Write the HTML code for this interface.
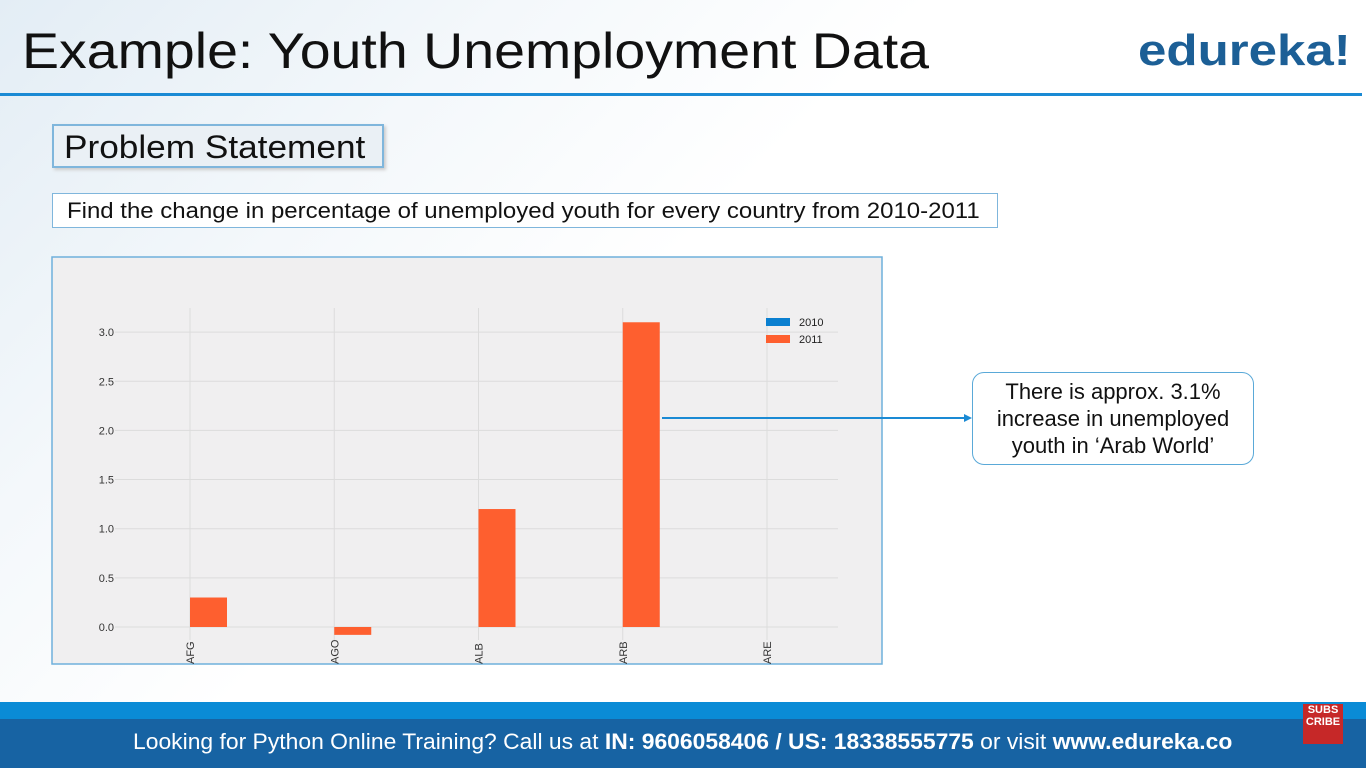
<!DOCTYPE html>
<html><head><meta charset="utf-8"><style>
body{margin:0;width:1366px;height:768px;overflow:hidden;background:#fff;font-family:"Liberation Sans","DejaVu Sans",sans-serif;position:relative}
.abs{position:absolute}
.sx{display:inline-block;transform-origin:left center}
</style></head><body>
<div class="abs" style="left:0;top:0;width:1366px;height:702px;background:linear-gradient(135deg,#e3edf5 0%,#f4f8fb 25%,#ffffff 45%,#ffffff 100%)"></div>
<div class="abs" style="left:22px;top:22px;font-size:50px;color:#111;white-space:nowrap"><span class="sx" style="transform:scaleX(1.11)">Example: Youth Unemployment Data</span></div>
<div class="abs" style="left:1138px;top:26px;font-size:44px;font-weight:bold;color:#1c5f96;white-space:nowrap"><span class="sx" style="transform:scaleX(1.16)">edureka!</span></div>
<div class="abs" style="left:0;top:93px;width:1362px;height:3px;background:#1a8ad4"></div>
<div class="abs" style="left:52px;top:124px;width:332px;height:44px;border:2px solid #7fb6dc;background:#eaf0f5;box-shadow:2px 2px 3px #ccc;font-size:32px;line-height:42px;padding-left:10px;box-sizing:border-box;color:#111;white-space:nowrap"><span class="sx" style="transform:scaleX(1.1)">Problem Statement</span></div>
<div class="abs" style="left:52px;top:193px;width:946px;height:35px;border:1.5px solid #7fb6dc;background:#fff;font-size:22px;line-height:33px;padding-left:14px;box-sizing:border-box;color:#111;white-space:nowrap"><span class="sx" style="transform:scaleX(1.09)">Find the change in percentage of unemployed youth for every country from 2010-2011</span></div>
<svg class="abs" style="left:0;top:0" width="1366" height="700" id="chart"></svg>
<div class="abs" style="left:972px;top:372px;width:282px;height:93px;border:1.5px solid #5aa9d8;border-radius:12px;background:#fff;box-sizing:border-box;text-align:center;font-size:22px;line-height:27px;padding-top:5px;color:#111">There is approx. 3.1%<br>increase in unemployed<br>youth in ‘Arab World’</div>
<div class="abs" style="left:0;top:702px;width:1366px;height:17px;background:#0a8bd6"></div>
<div class="abs" style="left:0;top:719px;width:1366px;height:49px;background:#1763a3"></div>
<div class="abs" style="left:133px;top:729px;font-size:22px;color:#fff;white-space:nowrap"><span class="sx" style="transform:scaleX(1.04)">Looking for Python Online Training? Call us at <b>IN: 9606058406 / US: 18338555775</b> or visit <b>www.edureka.co</b></span></div>
<div class="abs" style="left:1303px;top:704px;width:40px;height:40px;background:#c62828;color:#fff;font-size:11px;font-weight:bold;line-height:12px;text-align:center">SUBS<br>CRIBE</div>
<script>
const categories=["AFG","AGO","ALB","ARB","ARE"];
const values2010=[0,0,0,0,0];
const values2011=[0.3,-0.08,1.2,3.1,0];
const yTicks=[0.0,0.5,1.0,1.5,2.0,2.5,3.0];
const seriesNames=["2010","2011"];
const NS="http://www.w3.org/2000/svg";
const svg=document.getElementById('chart');
function mk(t,a,p){const e=document.createElementNS(NS,t);for(const k in a)e.setAttribute(k,a[k]);(p||svg).appendChild(e);return e;}
const y=v=>627-v*98.3;
const x=i=>190+i*144.25;
const panel=mk('rect',{x:52,y:257,width:830,height:407,fill:'#f0eff0',stroke:'#6fb0dc','stroke-width':1.5});

yTicks.forEach(t=>{
 const g=mk('line',{x1:115,x2:838,y1:y(t),y2:y(t),stroke:'#dcdcdc','stroke-width':1});
 
 const l=mk('text',{x:114,y:y(t)+4,'text-anchor':'end','font-size':11,fill:'#333'});
 l.textContent=t.toFixed(1);
 
});
categories.forEach((c,i)=>{
 const g=mk('line',{x1:x(i),x2:x(i),y1:308,y2:640,stroke:'#dcdcdc','stroke-width':1});
 
 const l=mk('text',{x:0,y:0,transform:`translate(${x(i)+4},664) rotate(-90)`,'font-size':11,fill:'#333'});
 l.textContent=c;
 
 const v0=values2010[i];
 const b0=mk('rect',{x:x(i)-36,y:Math.min(y(v0),y(0)),width:36,height:Math.abs(y(v0)-y(0)),fill:'#0a7fd0'});
 
 const v=values2011[i];
 const b=mk('rect',{x:x(i),y:Math.min(y(v),y(0)),width:37,height:Math.abs(y(v)-y(0)),fill:'#fe5f2f'});
 
});
const cols=['#0a7fd0','#fe5f2f'];
seriesNames.forEach((s,i)=>{
 const r=mk('rect',{x:766,y:318+i*17,width:24,height:8,fill:cols[i]});
 
 const t=mk('text',{x:799,y:326+i*17,'font-size':11,fill:'#222'});t.textContent=s;
 
});
const ar=mk('line',{x1:662,x2:966,y1:418,y2:418,stroke:'#1a8ad4','stroke-width':2});

const ah=mk('polygon',{points:'972,418 964,414 964,422',fill:'#1a8ad4'});

</script>
</body></html>
